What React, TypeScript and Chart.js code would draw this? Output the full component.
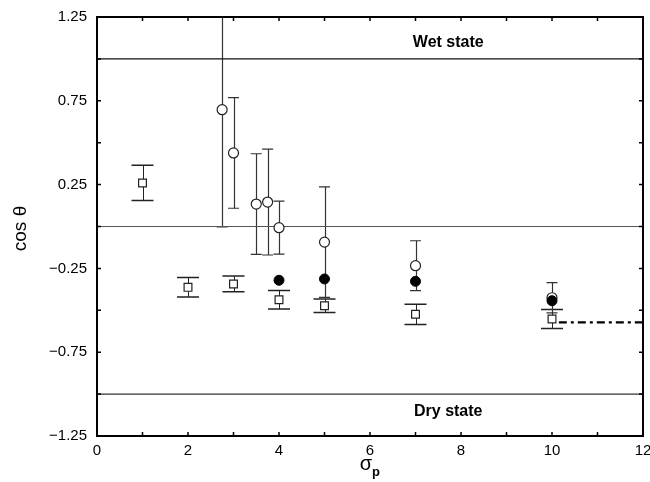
import React, { useEffect, useRef } from "react";
import { Chart, registerables } from "chart.js";

Chart.register(...registerables);

// ---- data ----
const squareX = [1, 2, 3, 4, 5, 7, 10];
const squareY = [0.26, -0.363, -0.343, -0.437, -0.473, -0.524, -0.552];
const squareErr = [0.105, 0.058, 0.047, 0.055, 0.04, 0.06, 0.057];

const openX = [2.75, 3, 3.5, 3.75, 4, 5, 7, 10];
const openY = [0.697, 0.439, 0.134, 0.146, -0.007, -0.093, -0.234, -0.425];
const openErr = [0.7, 0.33, 0.3, 0.316, 0.158, 0.33, 0.149, 0.09];

const filledX = [4, 5, 7, 10];
const filledY = [-0.321, -0.313, -0.327, -0.443];

const dashX = [10.15, 12];
const dashY = [-0.572, -0.572];

const stateLineY = [1, 0, -1];
const stateLineColors = ["#111", "#555", "#333"];

const stateLabels = ["Wet state", "Dry state"];
const stateLabelX = [7.72, 7.72];
const stateLabelY = [1.1, -1.107];

const xMin = 0, xMax = 12, xStep = 1;
const yMin = -1.25, yMax = 1.25, yStep = 0.25;

const FONT = "'Liberation Sans', Arial, Helvetica, sans-serif";

const zip = (xs: number[], ys: number[]) => xs.map((x, i) => ({ x, y: ys[i] }));

const customPlugin = {
  id: "custom",
  beforeDatasetsDraw(chart: any) {
    const { ctx, chartArea, scales } = chart;
    const xs = scales.x, ys = scales.y;
    ctx.save();
    ctx.beginPath();
    ctx.rect(chartArea.left, chartArea.top, chartArea.right - chartArea.left, chartArea.bottom - chartArea.top);
    ctx.clip();
    const drawErr = (X: number[], Y: number[], E: number[], cap: number, color: string, lw: number, capLw: number) => {
      for (let i = 0; i < X.length; i++) {
        const px = xs.getPixelForValue(X[i]);
        const pt = ys.getPixelForValue(Y[i] + E[i]);
        const pb = ys.getPixelForValue(Y[i] - E[i]);
        ctx.strokeStyle = color;
        ctx.lineWidth = lw;
        ctx.beginPath();
        ctx.moveTo(Math.round(px) + 0.5, pt);
        ctx.lineTo(Math.round(px) + 0.5, pb);
        ctx.stroke();
        ctx.lineWidth = capLw;
        ctx.beginPath();
        ctx.moveTo(px - cap, pt);
        ctx.lineTo(px + cap, pt);
        ctx.moveTo(px - cap, pb);
        ctx.lineTo(px + cap, pb);
        ctx.stroke();
      }
    };
    drawErr(squareX, squareY, squareErr, 11, "#222", 1, 1.5);
    drawErr(openX, openY, openErr, 5.5, "#333", 1.2, 1.2);
    ctx.restore();
  },
  afterDraw(chart: any) {
    const { ctx, chartArea, scales } = chart;
    const xs = scales.x, ys = scales.y;
    const { left, right, top, bottom } = chartArea;
    ctx.save();
    // inward ticks
    ctx.strokeStyle = "#000";
    ctx.lineWidth = 1.5;
    const tl = 4;
    ctx.beginPath();
    xs.ticks.forEach((t: any) => {
      const p = xs.getPixelForValue(t.value);
      ctx.moveTo(p, bottom);
      ctx.lineTo(p, bottom - tl);
      ctx.moveTo(p, top);
      ctx.lineTo(p, top + tl);
    });
    ys.ticks.forEach((t: any) => {
      const p = ys.getPixelForValue(t.value);
      ctx.moveTo(left, p);
      ctx.lineTo(left + tl, p);
      ctx.moveTo(right, p);
      ctx.lineTo(right - tl, p);
    });
    ctx.stroke();
    // frame
    ctx.lineWidth = 2;
    ctx.strokeRect(left, top, right - left, bottom - top);
    // state labels
    ctx.fillStyle = "#000";
    ctx.font = `bold 16px ${FONT}`;
    ctx.textAlign = "center";
    ctx.textBaseline = "middle";
    stateLabels.forEach((s, i) => {
      ctx.fillText(s, xs.getPixelForValue(stateLabelX[i]), ys.getPixelForValue(stateLabelY[i]));
    });
    // x title sigma_p
    const cx = (left + right) / 2;
    ctx.font = `20px ${FONT}`;
    ctx.textAlign = "right";
    ctx.fillText("σ", cx + 2, 464);
    ctx.font = `bold 13px ${FONT}`;
    ctx.textAlign = "left";
    ctx.fillText("p", cx + 2, 472);
    // y title
    ctx.translate(21, (top + bottom) / 2 + 2);
    ctx.rotate(-Math.PI / 2);
    ctx.font = `19px ${FONT}`;
    ctx.textAlign = "center";
    ctx.fillText("cos θ", 0, 0);
    ctx.restore();
  },
};

export default function App() {
  const ref = useRef<HTMLCanvasElement | null>(null);
  useEffect(() => {
    document.body.style.margin = "0";
    if (!ref.current) return;
    const lineSets = stateLineY.map((v, i) => ({
      type: "line" as const,
      data: [{ x: xMin, y: v }, { x: xMax, y: v }],
      borderColor: stateLineColors[i],
      borderWidth: 1.2,
      pointRadius: 0,
      showLine: true,
      order: 5,
    }));
    const chart = new Chart(ref.current, {
      type: "scatter",
      data: {
        datasets: [
          {
            data: zip(filledX, filledY),
            pointStyle: "circle",
            pointRadius: 5,
            backgroundColor: "#000",
            borderColor: "#000",
            borderWidth: 1,
            order: 0,
          },
          {
            data: zip(openX, openY),
            pointStyle: "circle",
            pointRadius: 5,
            backgroundColor: "#fff",
            borderColor: "#222",
            borderWidth: 1.2,
            order: 1,
          },
          {
            data: zip(squareX, squareY),
            pointStyle: "rect",
            pointRadius: 5.5,
            backgroundColor: "#fff",
            borderColor: "#222",
            borderWidth: 1.2,
            order: 2,
          },
          {
            type: "line" as const,
            data: zip(dashX, dashY),
            borderColor: "#000",
            borderWidth: 2.2,
            borderDash: [8, 4, 3, 4],
            pointRadius: 0,
            showLine: true,
            order: 3,
          },
          ...lineSets,
        ] as any,
      },
      options: {
        responsive: false,
        animation: false,
        events: [],
        layout: { padding: { top: 17, right: 7, left: 0, bottom: 0 } },
        plugins: { legend: { display: false }, tooltip: { enabled: false } },
        scales: {
          x: {
            type: "linear",
            min: xMin,
            max: xMax,
            grid: { display: false, drawTicks: false },
            border: { display: false },
            ticks: {
              stepSize: xStep,
              autoSkip: false,
              maxRotation: 0,
              padding: 6,
              color: "#000",
              font: { family: FONT, size: 15 },
              callback: (v: any) => (Math.round(v) % 2 === 0 ? String(v) : ""),
            },
            afterFit: (s: any) => {
              s.height = 46;
              s.paddingRight = 0;
              s.paddingLeft = 0;
            },
          },
          y: {
            type: "linear",
            min: yMin,
            max: yMax,
            grid: { display: false, drawTicks: false },
            border: { display: false },
            ticks: {
              stepSize: yStep,
              autoSkip: false,
              padding: 10,
              color: "#000",
              font: { family: FONT, size: 15 },
              callback: (v: any) => {
                const q = Math.round(v * 4);
                if (Math.abs(q) % 2 !== 1) return "";
                const s = Math.abs(v).toFixed(2);
                return v < 0 ? "\u2212" + s : s;
              },
            },
            afterFit: (s: any) => {
              s.width = 97;
              s.paddingTop = 0;
              s.paddingBottom = 0;
            },
          },
        },
      },
      plugins: [customPlugin],
    });
    return () => chart.destroy();
  }, []);
  return (
    <div style={{ width: 650, height: 482 }}>
      <canvas ref={ref} width={650} height={482} style={{ display: "block" }} />
    </div>
  );
}
